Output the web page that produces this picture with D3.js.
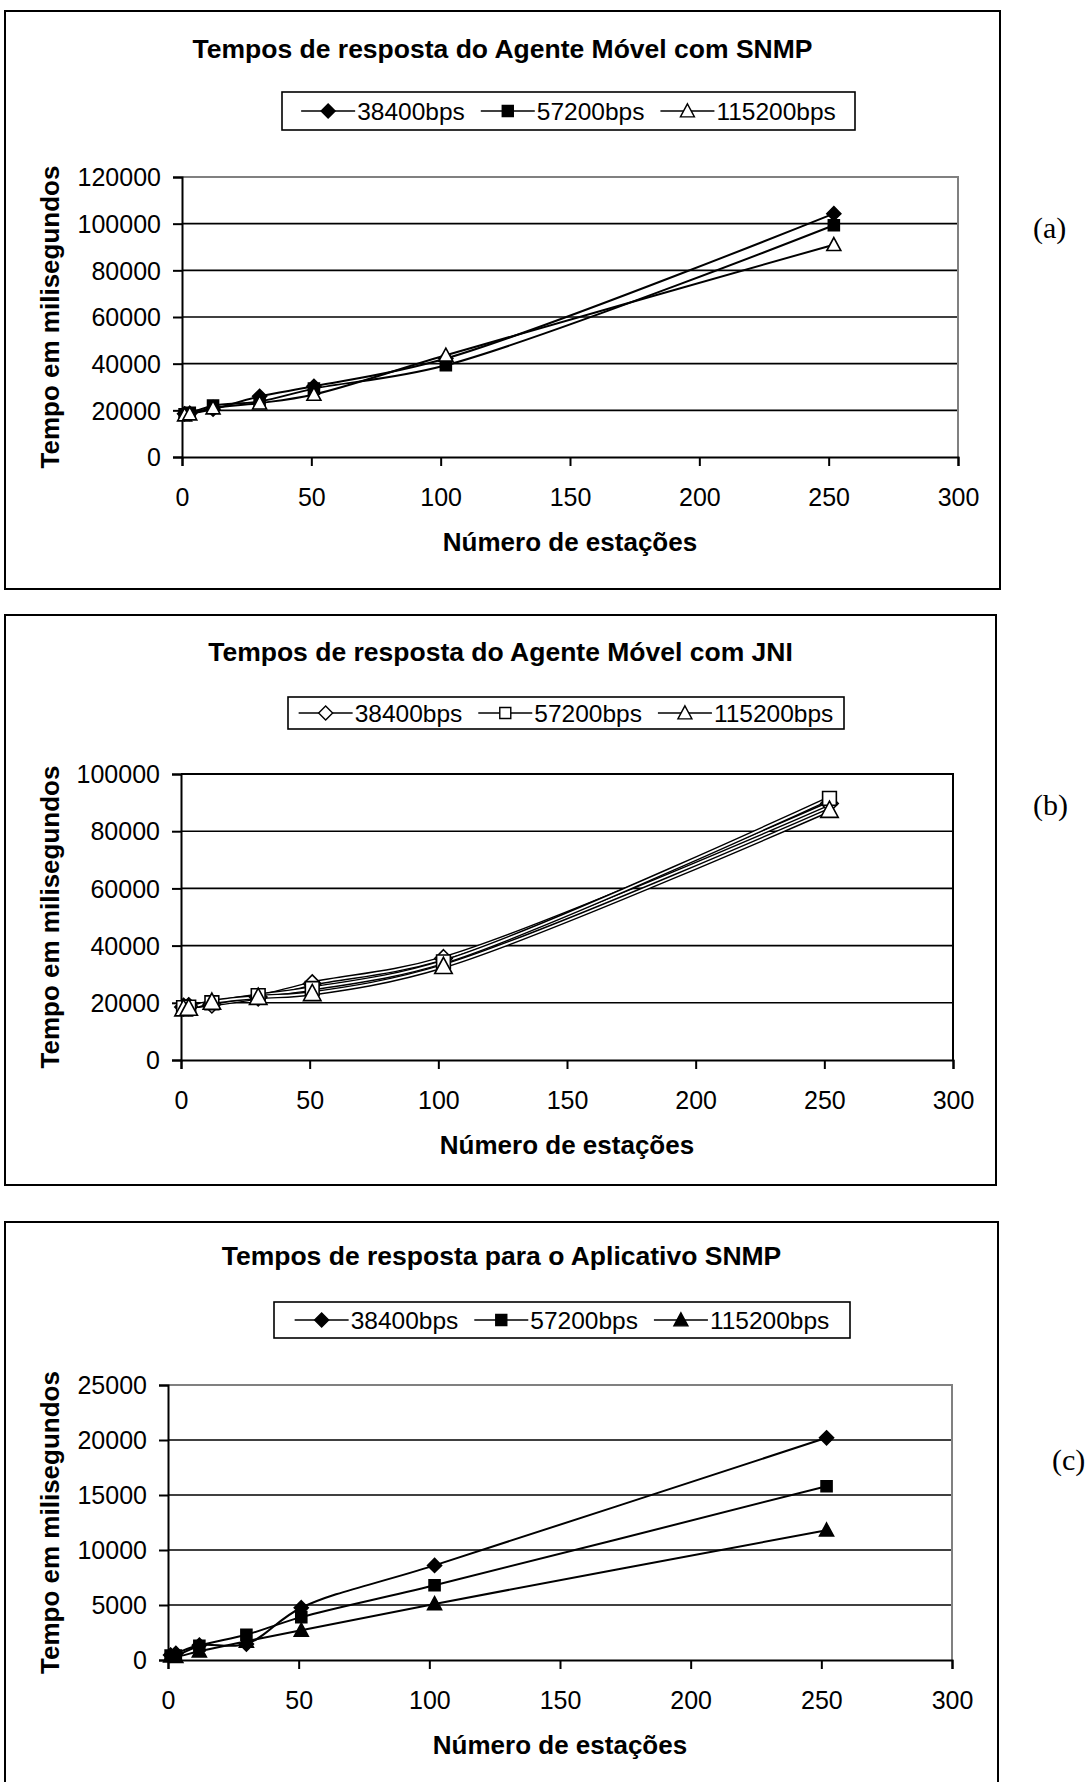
<!DOCTYPE html>
<html><head><meta charset="utf-8">
<script src="https://cdn.jsdelivr.net/npm/d3@7"></script>
<style>body{margin:0;background:#fff} svg{display:block}</style>
</head><body>
<script>
// ---------- data ----------
const stations = [1, 3, 12, 30, 51, 102, 252];
const seriesLabels = ["38400bps", "57200bps", "115200bps"];
const xTickValues = [0, 50, 100, 150, 200, 250, 300];

const titleA = "Tempos de resposta do Agente Móvel com SNMP";
const titleB = "Tempos de resposta do Agente Móvel com JNI";
const titleC = "Tempos de resposta para o Aplicativo SNMP";
const xAxisTitle = "Número de estações";
const yAxisTitle = "Tempo em milisegundos";
const panelLabels = ["(a)", "(b)", "(c)"];

const agentSnmp38400  = [18500, 18700, 20500, 26000, 30300, 42200, 104300];
const agentSnmp57200  = [18300, 18900, 22000, 23800, 29300, 39300, 99300];
const agentSnmp115200 = [18000, 18400, 21000, 23100, 26800, 43600, 91000];
const yTicksA = [0, 20000, 40000, 60000, 80000, 100000, 120000];

const agentJni38400  = [18500, 18700, 19500, 22000, 26700, 35500, 89700];
const agentJni57200  = [18300, 18500, 20000, 22500, 25000, 34300, 91500];
const agentJni115200 = [18000, 18200, 20300, 22000, 23300, 32800, 87400];
const yTicksB = [0, 20000, 40000, 60000, 80000, 100000];

const snmpApp38400  = [450, 600, 1350, 1450, 4750, 8600, 20200];
const snmpApp57200  = [400, 400, 1300, 2300, 3900, 6800, 15800];
const snmpApp115200 = [350, 300, 800, 1700, 2700, 5100, 11800];
const yTicksC = [0, 5000, 10000, 15000, 20000, 25000];

// ---------- layout ----------
const W = 1088, H = 1782;
const svg = d3.select("body").append("svg").attr("width", W).attr("height", H)
  .style("font-family", "'Liberation Sans', Arial, sans-serif");

const charts = [
  { title: titleA, series: [agentSnmp38400, agentSnmp57200, agentSnmp115200], yTicks: yTicksA,
    box: {x:5, y:11, w:995, h:578}, plot: {l:182, r:958, t:177, b:457},
    titleY: 58, legend: {x1:282, x2:855, y1:92, y2:130},
    fills: ["#000", "#000", "#fff"], hollowLines: false, borderColor: "#808080",
    panel: {x:1033, y:238} },
  { title: titleB, series: [agentJni38400, agentJni57200, agentJni115200], yTicks: yTicksB,
    box: {x:5, y:615, w:991, h:570}, plot: {l:181, r:953, t:774, b:1060},
    titleY: 661, legend: {x1:288, x2:844, y1:697, y2:729},
    fills: ["#fff", "#fff", "#fff"], hollowLines: true, borderColor: "#000",
    panel: {x:1033, y:815} },
  { title: titleC, series: [snmpApp38400, snmpApp57200, snmpApp115200], yTicks: yTicksC,
    box: {x:5, y:1222, w:993, h:620}, plot: {l:168, r:952, t:1385, b:1660},
    titleY: 1265, legend: {x1:274, x2:850, y1:1302, y2:1338},
    fills: ["#000", "#000", "#000"], hollowLines: false, borderColor: "#808080",
    panel: {x:1052, y:1470} }
];

const shapes = ["diamond", "square", "triangle"];
function markerPath(shape, big) {
  const k = big ? 1.25 : 1;
  if (shape === "diamond") { const r = 7 * k; return `M0,${-r}L${r},0L0,${r}L${-r},0Z`; }
  if (shape === "square") { const r = 5.5 * k; return `M${-r},${-r}H${r}V${r}H${-r}Z`; }
  const w = 7 * k, h = 13 * k;
  return `M0,${-h*0.55}L${w},${h*0.45}L${-w},${h*0.45}Z`;
}

charts.forEach((c, ci) => {
  const g = svg.append("g");
  // outer frame
  g.append("rect").attr("x", c.box.x).attr("y", c.box.y).attr("width", c.box.w).attr("height", c.box.h)
    .attr("fill", "none").attr("stroke", "#000").attr("stroke-width", 2);

  const x = d3.scaleLinear().domain([0, 300]).range([c.plot.l, c.plot.r]);
  const yMax = c.yTicks[c.yTicks.length - 1];
  const y = d3.scaleLinear().domain([0, yMax]).range([c.plot.b, c.plot.t]);

  // gridlines
  g.append("g").selectAll("line").data(c.yTicks.filter(v => v > 0 && v < yMax)).join("line")
    .attr("x1", c.plot.l).attr("x2", c.plot.r).attr("y1", d => y(d)).attr("y2", d => y(d))
    .attr("stroke", "#000").attr("stroke-width", 1.6);
  // top/right border
  g.append("path").attr("d", `M${c.plot.l},${y(yMax)}H${c.plot.r}V${c.plot.b}`)
    .attr("fill", "none").attr("stroke", c.borderColor).attr("stroke-width", 2);

  // axes
  const yAxis = d3.axisLeft(y).tickValues(c.yTicks).tickSize(9).tickPadding(12).tickFormat(d3.format("d"));
  const ya = g.append("g").attr("transform", `translate(${c.plot.l},0)`).call(yAxis);
  const xAxis = d3.axisBottom(x).tickValues(xTickValues).tickSize(9).tickPadding(22).tickFormat(d3.format("d"));
  const xa = g.append("g").attr("transform", `translate(0,${c.plot.b})`).call(xAxis);
  [ya, xa].forEach(a => {
    a.select(".domain").attr("stroke", "#000").attr("stroke-width", 2);
    a.selectAll(".tick line").attr("stroke", "#000").attr("stroke-width", 2);
    a.selectAll(".tick text").attr("fill", "#000").style("font-size", "25px")
      .style("font-family", "'Liberation Sans', Arial, sans-serif");
  });
  ya.selectAll(".tick text").attr("dy", "0.35em");

  // series
  const line = d3.line().x(d => x(d[0])).y(d => y(d[1])).curve(d3.curveCatmullRom.alpha(0.5));
  c.series.forEach((vals, si) => {
    const pts = stations.map((s, i) => [s, vals[i]]);
    if (c.hollowLines) {
      g.append("path").attr("d", line(pts)).attr("fill", "none").attr("stroke", "#000").attr("stroke-width", 4.6);
      g.append("path").attr("d", line(pts)).attr("fill", "none").attr("stroke", "#fff").attr("stroke-width", 1.8);
    } else {
      g.append("path").attr("d", line(pts)).attr("fill", "none").attr("stroke", "#000").attr("stroke-width", 2);
    }
  });
  c.series.forEach((vals, si) => {
    g.append("g").selectAll("path").data(stations.map((s, i) => [s, vals[i]])).join("path")
      .attr("transform", d => `translate(${x(d[0])},${y(d[1])})`)
      .attr("d", markerPath(shapes[si], c.hollowLines))
      .attr("fill", c.fills[si]).attr("stroke", "#000").attr("stroke-width", 1.6);
  });

  // title
  g.append("text").attr("x", c.box.x + c.box.w / 2).attr("y", c.titleY).attr("text-anchor", "middle")
    .style("font-size", "26.5px").style("font-weight", "bold").text(c.title);
  // axis titles
  g.append("text").attr("x", (c.plot.l + c.plot.r) / 2).attr("y", c.plot.b + 94).attr("text-anchor", "middle")
    .style("font-size", "26px").style("font-weight", "bold").text(xAxisTitle);
  g.append("text").attr("transform", `translate(50,${(c.plot.t + c.plot.b) / 2}) rotate(-90)`)
    .attr("text-anchor", "middle").attr("dy", "0.35em")
    .style("font-size", "26px").style("font-weight", "bold").text(yAxisTitle);

  // legend
  const L = c.legend;
  g.append("rect").attr("x", L.x1).attr("y", L.y1).attr("width", L.x2 - L.x1).attr("height", L.y2 - L.y1)
    .attr("fill", "#fff").attr("stroke", "#000").attr("stroke-width", 1.6);
  const ly = (L.y1 + L.y2) / 2;
  const lg = g.append("g");
  const items = seriesLabels.map((lab, si) => {
    const it = lg.append("g");
    it.append("line").attr("x1", 0).attr("x2", 54).attr("y1", ly).attr("y2", ly).attr("stroke", "#000").attr("stroke-width", 1.6);
    it.append("path").attr("transform", `translate(27,${ly})`).attr("d", markerPath(shapes[si], false))
      .attr("fill", c.fills[si]).attr("stroke", "#000").attr("stroke-width", 1.4);
    const t = it.append("text").attr("x", 56).attr("y", ly).attr("dy", "0.35em").style("font-size", "24.5px").text(lab);
    return { it, w: 56 + t.node().getComputedTextLength() };
  });
  const gap = 16;
  const total = d3.sum(items, d => d.w) + gap * (items.length - 1);
  let cx = (L.x1 + L.x2) / 2 - total / 2;
  items.forEach(d => { d.it.attr("transform", `translate(${cx},0)`); cx += d.w + gap; });

  // panel label
  svg.append("text").attr("x", c.panel.x).attr("y", c.panel.y)
    .style("font-family", "'Liberation Serif', 'Times New Roman', serif").style("font-size", "30px")
    .text(panelLabels[ci]);
});
</script>
</body></html>
